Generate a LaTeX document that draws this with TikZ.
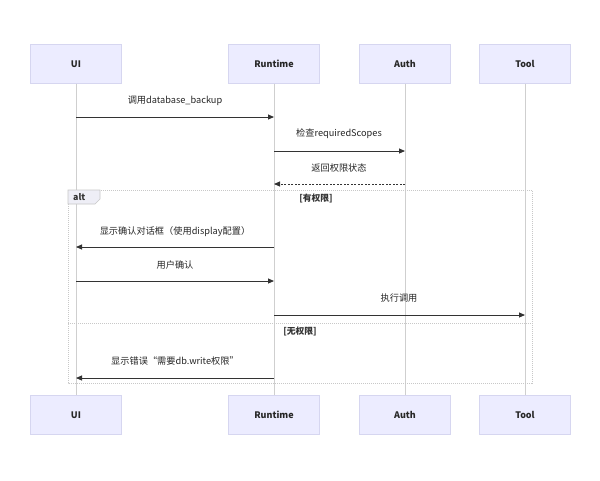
\documentclass[tikz,border=0pt]{standalone}
\usepackage{fontspec}
\setmainfont{Noto Sans CJK SC}
\usetikzlibrary{arrows.meta}
\definecolor{actfill}{HTML}{ECECFF}
\definecolor{actline}{HTML}{D6D6F0}
\definecolor{lifec}{HTML}{CFCFCF}
\definecolor{msgc}{HTML}{333333}
\definecolor{altc}{HTML}{C8C8C8}
\definecolor{altfill}{HTML}{EEEEF6}
\tikzset{
  actor/.style={draw=actline, fill=actfill, line width=0.6pt, minimum width=91pt, minimum height=39pt, inner sep=0pt, font=\fontsize{9}{11}\selectfont\bfseries, text=black!85},
  life/.style={draw=lifec, line width=0.8pt},
  msg/.style={draw=msgc, line width=0.9pt, -{Triangle[length=6pt,width=5pt]}},
  reply/.style={msg, dash pattern=on 2pt off 1.5pt},
  lbl/.style={font=\fontsize{9.2}{11}\selectfont, text=black!85, inner sep=0pt},
  frame/.style={draw=altc, line width=0.6pt, dash pattern=on 1pt off 1pt},
  cond/.style={font=\fontsize{8.8}{10}\selectfont\bfseries, text=black!80, inner sep=0pt}
}
\begin{document}
\begin{tikzpicture}[x=1pt,y=-1pt]
\useasboundingbox (0,0) rectangle (600,480);
\fill[white] (0,0) rectangle (600,480);
% actors top
\node[actor] (ui) at (76,64) {UI};
\node[actor] (rt) at (274,64) {Runtime};
\node[actor] (au) at (405,64) {Auth};
\node[actor] (tl) at (525,64) {Tool};
% actors bottom
\node[actor] (uib) at (76,415) {UI};
\node[actor] (rtb) at (274,415) {Runtime};
\node[actor] (aub) at (405,415) {Auth};
\node[actor] (tlb) at (525,415) {Tool};
% lifelines
\draw[life] (ui) -- (uib);
\draw[life] (rt) -- (rtb);
\draw[life] (au) -- (aub);
\draw[life] (tl) -- (tlb);
% alt frame
\draw[frame] (68,190) rectangle (532,383);
\draw[frame] (68,323) -- (532,323);
\path[fill=altfill, draw=altc, line width=0.6pt] (68,190) -- (100,190) -- (100,199) -- (95,204) -- (68,204) -- cycle;
\node[cond, anchor=west] (altl) at (73,197) {alt};
\node[cond] (c1) at (316,198) {[有权限]};
\node[cond] (c2) at (300,331) {[无权限]};
% message rows
\coordinate (r1) at (0,117);
\coordinate (r2) at (0,151);
\coordinate (r3) at (0,184);
\coordinate (r4) at (0,247);
\coordinate (r5) at (0,281);
\coordinate (r6) at (0,315);
\coordinate (r7) at (0,378);
\draw[msg] (ui |- r1) -- (rt |- r1);
\node[lbl] (l1) at (175,101) {调用database\_backup};
\draw[msg] (rt |- r2) -- (au |- r2);
\node[lbl] (l2) at (339,134) {检查requiredScopes};
\draw[reply] (au |- r3) -- (rt |- r3);
\node[lbl] (l3) at (339,168) {返回权限状态};
\draw[msg] (rt |- r4) -- (ui |- r4);
\node[lbl] (l4) at (175,232) {显示确认对话框（使用display配置）};
\draw[msg] (ui |- r5) -- (rt |- r5);
\node[lbl] (l5) at (175,265) {用户确认};
\draw[msg] (rt |- r6) -- (tl |- r6);
\node[lbl] (l6) at (399,298) {执行调用};
\draw[msg] (rt |- r7) -- (ui |- r7);
\node[lbl] (l7) at (175,361) {显示错误“需要db.write权限”};
\end{tikzpicture}
\end{document}
